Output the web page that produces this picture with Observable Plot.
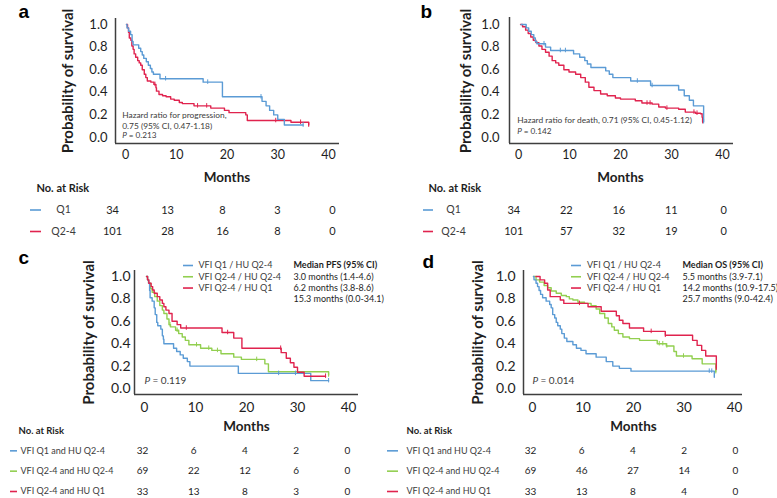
<!DOCTYPE html>
<html><head><meta charset="utf-8">
<script src="https://cdn.jsdelivr.net/npm/d3@7"></script>
<script src="https://cdn.jsdelivr.net/npm/@observablehq/plot@0.6"></script>
<style>
body{margin:0;background:#fff;}
#root{position:relative;width:777px;height:498px;overflow:hidden;background:#fff;}
#root svg{position:absolute;}
</style></head><body><div id="root"></div>
<script>
// ---------- data ----------
const months = [0, 10, 20, 30, 40];
const yTicks = [0, 0.2, 0.4, 0.6, 0.8, 1.0];

const abGroups = ["Q1", "Q2-4"];
const cdGroups = ["VFI Q1 and HU Q2-4", "VFI Q2-4 and HU Q2-4", "VFI Q2-4 and HU Q1"];
const cdLegend = ["VFI Q1 / HU Q2-4", "VFI Q2-4 / HU Q2-4", "VFI Q2-4 / HU Q1"];
const pfsMedianTitle = "Median PFS (95% CI)";
const pfsMedians = ["3.0 months (1.4-4.6)", "6.2 months (3.8-8.6)", "15.3 months (0.0-34.1)"];
const osMedianTitle = "Median OS (95% CI)";
const osMedians = ["5.5 months (3.9-7.1)", "14.2 months (10.9-17.5)", "25.7 months (9.0-42.4)"];
const noteA = ["Hazard ratio for progression,", "0.75 (95% CI, 0.47-1.18)"];
const noteB = ["Hazard ratio for death, 0.71 (95% CI, 0.45-1.12)"];
const pValues = ["0.213", "0.142", "0.119", "0.014"];

// Kaplan-Meier steps [month, survival]
const aQ1 = [[0.2,1],[0.3,0.97],[0.6,0.94],[1.0,0.91],[1.3,0.85],[1.5,0.82],[2.6,0.79],[3.0,0.76],[3.3,0.73],[3.6,0.70],[4.1,0.67],[4.5,0.64],[4.9,0.61],[5.2,0.58],[5.5,0.56],[6.8,0.52],[15.3,0.49],[19.1,0.36],[26.9,0.32],[27.7,0.28],[28.4,0.24],[29.2,0.20],[30.0,0.16],[31.3,0.11],[35.0,0.11]];
const aQ24 = [[0.2,1],[0.4,0.97],[0.6,0.93],[0.75,0.88],[1.05,0.86],[1.25,0.81],[1.5,0.78],[1.7,0.74],[2.0,0.71],[2.4,0.68],[2.7,0.66],[3.0,0.64],[3.3,0.60],[3.7,0.56],[4.0,0.53],[4.3,0.50],[5.0,0.49],[5.6,0.47],[6.0,0.44],[6.1,0.41],[6.6,0.38],[7.3,0.37],[8.0,0.36],[8.9,0.34],[9.6,0.33],[10.6,0.31],[11.2,0.30],[13.5,0.28],[16.8,0.26],[19.5,0.24],[20.4,0.22],[23.7,0.20],[24.0,0.15],[32.6,0.135],[36.1,0.11]];
const aQ1Cens = [7.9, 16.2, 26.7, 35.0];
const aQ24Cens = [5.8, 14.2, 16.0, 29.6, 34.5, 36.1];

const bQ1 = [[0.5,1],[1.5,0.97],[2.0,0.94],[2.5,0.91],[3.0,0.88],[3.3,0.85],[3.6,0.83],[5.3,0.80],[6.3,0.77],[10.8,0.74],[12.0,0.71],[13.0,0.68],[13.5,0.65],[14.2,0.62],[17.1,0.59],[17.8,0.56],[18.5,0.53],[22.0,0.50],[25.9,0.46],[31.4,0.42],[32.5,0.37],[33.5,0.33],[34.3,0.28],[36.3,0.14]];
const bQ24 = [[0.4,1],[0.8,0.98],[1.4,0.95],[1.9,0.92],[2.4,0.89],[2.9,0.86],[3.4,0.84],[4.0,0.81],[4.6,0.78],[5.3,0.755],[6.0,0.72],[6.6,0.68],[7.3,0.66],[7.9,0.64],[8.9,0.60],[9.9,0.58],[11.2,0.56],[12.2,0.53],[13.1,0.49],[13.8,0.445],[14.8,0.415],[16.1,0.385],[17.4,0.37],[19.0,0.35],[20.0,0.34],[22.9,0.325],[24.2,0.305],[26.2,0.295],[27.5,0.27],[28.8,0.26],[31.4,0.25],[32.7,0.225],[34.7,0.215],[35.7,0.21],[36.0,0.18],[36.1,0.14]];
const bQ1Cens = [5.0, 8.2, 9.2, 23.3, 26.2, 36.3];
const bQ24Cens = [25.2, 25.8, 29.1, 34.4, 35.0, 36.1];

const cBlue = [[0.4,1],[0.6,0.97],[0.8,0.94],[1.0,0.875],[1.1,0.81],[1.5,0.78],[1.9,0.72],[2.1,0.66],[2.4,0.59],[2.6,0.56],[3.2,0.53],[3.5,0.47],[3.7,0.44],[3.8,0.40],[5.7,0.36],[6.3,0.33],[7.0,0.30],[7.6,0.27],[8.4,0.24],[8.9,0.20],[18.4,0.135],[32.6,0.07],[36.1,0.07]];
const cGreen = [[0.4,1],[0.6,0.97],[0.8,0.94],[1.2,0.89],[1.5,0.86],[2.0,0.82],[2.5,0.78],[3.0,0.74],[3.5,0.70],[3.8,0.67],[4.4,0.62],[4.8,0.57],[5.1,0.55],[6.1,0.52],[6.7,0.49],[7.4,0.46],[8.0,0.43],[8.7,0.39],[11.0,0.36],[13.2,0.34],[15.0,0.31],[17.5,0.28],[19.0,0.26],[23.6,0.22],[24.3,0.15],[36.1,0.12]];
const cRed = [[0.4,1],[0.6,0.97],[0.85,0.94],[1.3,0.91],[1.6,0.88],[1.9,0.85],[2.5,0.82],[3.0,0.79],[3.5,0.76],[3.8,0.73],[4.2,0.70],[4.8,0.67],[5.4,0.60],[6.4,0.57],[7.1,0.54],[15.2,0.50],[17.5,0.45],[19.1,0.36],[26.8,0.32],[27.8,0.27],[28.6,0.23],[29.3,0.19],[30.0,0.145],[31.3,0.11],[35.5,0.11]];
const cBlueCens = [26.3, 29.6, 36.1];
const cGreenCens = [5.0, 6.4, 10.2, 12.6, 14.3, 22.0, 30.0, 36.1];
const cRedCens = [8.2, 16.3, 26.7, 35.5];

const dBlue = [[0.2,1],[0.3,0.97],[0.7,0.94],[1.0,0.91],[1.3,0.875],[1.6,0.84],[2.0,0.81],[2.7,0.78],[3.4,0.75],[3.7,0.72],[4.0,0.66],[4.4,0.63],[4.7,0.59],[5.0,0.56],[5.5,0.53],[5.8,0.49],[6.3,0.45],[6.8,0.42],[8.0,0.39],[8.7,0.36],[9.6,0.34],[10.6,0.31],[12.6,0.28],[14.6,0.24],[15.9,0.20],[17.2,0.18],[19.5,0.155],[36.0,0.10]];
const dGreen = [[0.2,1],[0.7,0.97],[1.4,0.95],[2.3,0.92],[3.0,0.90],[3.7,0.87],[4.7,0.85],[5.7,0.83],[6.7,0.82],[7.3,0.80],[8.0,0.79],[9.0,0.77],[10.3,0.76],[11.6,0.74],[12.6,0.71],[13.3,0.67],[14.3,0.63],[15.0,0.58],[15.7,0.55],[16.2,0.52],[17.0,0.49],[17.9,0.46],[19.2,0.445],[21.2,0.43],[24.7,0.40],[26.5,0.38],[28.0,0.33],[28.5,0.29],[31.6,0.265],[33.6,0.22],[36.3,0.15]];
const dRed = [[0.7,1],[1.5,0.97],[2.4,0.94],[3.0,0.88],[3.5,0.82],[5.5,0.79],[6.2,0.76],[11.0,0.73],[13.6,0.69],[16.6,0.65],[17.2,0.61],[17.9,0.58],[19.2,0.54],[22.0,0.51],[26.3,0.475],[31.7,0.43],[32.6,0.385],[33.5,0.34],[34.3,0.29],[36.4,0.18]];
const dBlueCens = [35.0, 35.5];
const dGreenCens = [25.1, 25.8, 26.6, 29.9, 36.3];
const dRedCens = [9.3, 23.5, 26.3, 36.4];

// numbers at risk at months 0,10,20,30,40
const riskAQ1 = [34, 13, 8, 3, 0];
const riskAQ24 = [101, 28, 16, 8, 0];
const riskBQ1 = [34, 22, 16, 11, 0];
const riskBQ24 = [101, 57, 32, 19, 0];
const riskCBlue = [32, 6, 4, 2, 0];
const riskCGreen = [69, 22, 12, 6, 0];
const riskCRed = [33, 13, 8, 3, 0];
const riskDBlue = [32, 6, 4, 2, 0];
const riskDGreen = [69, 46, 27, 14, 0];
const riskDRed = [33, 13, 8, 4, 0];

// ---------- styling ----------
const BLUE = "#5b9bd5", RED = "#e0234e", GREEN = "#92cf50";
const INK = "#1e1e1e", LABEL = "#3c3c3c", AXIS = "#3f3f3f";
const FONT = "Lato, 'Open Sans', sans-serif";
const baseStyle = {background: "transparent", overflow: "visible", fontFamily: FONT};
const root = document.getElementById("root");
function place(svg, left, top) { svg.style.left = left + "px"; svg.style.top = top + "px"; root.appendChild(svg); }
function survAt(pts, t) { let s = pts[0][1]; for (const [tt, ss] of pts) if (tt <= t) s = ss; return s; }

function kmPanel(c) {
  const marks = [
    Plot.ruleX([0], {x: d => d, dx: c.axDx, insetTop: -c.axTop, insetBottom: -6, stroke: AXIS, strokeWidth: 1.5}),
    Plot.ruleY([0], {y: d => d, dy: 6, insetLeft: c.axDx, insetRight: -c.axRight, stroke: AXIS, strokeWidth: 1.5}),
    Plot.text(yTicks, {y: d => d, text: d => d.toFixed(1), frameAnchor: "left", textAnchor: "end", dx: -c.yPad, fontSize: c.yTickSize, fill: INK}),
    Plot.text(months, {x: d => d, text: d => String(d), frameAnchor: "bottom", textAnchor: "middle", lineAnchor: "top", dy: c.xPad, fontSize: c.xTickSize, fill: INK}),
    Plot.text(["Months"], {text: d => d, frameAnchor: "bottom", textAnchor: "middle", lineAnchor: "bottom", dy: c.monthsDy, fontWeight: "bold", fontSize: 13.5, fill: INK}),
    Plot.text(["Probability of survival"], {text: d => d, frameAnchor: "left", textAnchor: "middle", lineAnchor: "middle", dx: c.ylabDx, rotate: -90, fontWeight: "bold", fontSize: 15, fill: INK}),
    Plot.text([c.letter], {text: d => d, frameAnchor: "top-left", textAnchor: "start", lineAnchor: "bottom", dx: c.letterDx, dy: c.letterDy, fontWeight: "bold", fontSize: 19, fontFamily: "'Liberation Sans', Arial, sans-serif", fill: "#000"})
  ];
  (c.notes || []).forEach((line, i) => {
    marks.push(Plot.text([line], {text: d => d, frameAnchor: "bottom-left", textAnchor: "start", dx: c.noteDx, dy: c.noteDy[i], fontSize: c.noteSize, fill: LABEL}));
  });
  marks.push(Plot.text(["P"], {text: d => d, frameAnchor: "bottom-left", textAnchor: "start", dx: c.noteDx, dy: c.pDy, fontSize: c.pSize, fontStyle: "italic", fill: LABEL}));
  marks.push(Plot.text(["= " + c.p], {text: d => d, frameAnchor: "bottom-left", textAnchor: "start", dx: c.noteDx + c.pSize * 0.8, dy: c.pDy, fontSize: c.pSize, fill: LABEL}));
  for (const s of c.series) {
    marks.push(Plot.line(s.pts, {x: d => d[0], y: d => d[1], curve: "step-after", stroke: s.color, strokeWidth: 1.4}));
    const cens = s.cens.map(t => [t, survAt(s.pts, t)]);
    marks.push(Plot.ruleX(cens, {x: d => d[0], y1: d => d[1] - 0.02, y2: d => d[1] + 0.02, stroke: s.color, strokeWidth: 1}));
  }
  const svg = Plot.plot({
    width: c.width, height: c.height,
    marginLeft: c.ml, marginRight: c.mr, marginTop: c.mt, marginBottom: c.mb,
    x: {domain: [0, 40], axis: null}, y: {domain: [0, 1], axis: null},
    style: baseStyle, marks
  });
  place(svg, c.left, c.top);
}

function riskTable(c) {
  const n = c.groups.length;
  const marks = [
    Plot.text(["No. at Risk"], {text: d => d, y: () => 0, frameAnchor: "left", dx: c.headerX, textAnchor: "start", fontWeight: "bold", fontSize: c.headerSize, fill: INK})
  ];
  c.groups.forEach((g, i) => {
    marks.push(Plot.ruleY([i + 1], {y: d => d, insetLeft: c.dashX1, insetRight: c.width - c.dashX2, stroke: c.colors[i], strokeWidth: 1.6}));
    marks.push(Plot.text([g], {text: d => d, y: () => i + 1, frameAnchor: "left", dx: c.labelX, textAnchor: c.labelAnchor, fontSize: c.labelSize, fill: LABEL}));
    marks.push(Plot.text(c.counts[i], {x: (d, j) => months[j], y: () => i + 1, text: d => String(d), textAnchor: "middle", fontSize: c.numSize, fill: INK}));
  });
  const svg = Plot.plot({
    width: c.width, height: c.height, marginLeft: 0, marginRight: 0, marginTop: 0, marginBottom: 0,
    x: {domain: [0, 40], range: c.xRange, axis: null},
    y: {domain: [0, n], range: [c.y0, c.y1], axis: null},
    style: baseStyle, marks
  });
  place(svg, c.left, c.top);
}

function legendTable(c) {
  const marks = [
    Plot.text([c.title], {text: d => d, y: () => 0, frameAnchor: "left", dx: c.medX, textAnchor: "start", fontWeight: "bold", fontSize: 9, fill: INK})
  ];
  c.names.forEach((g, i) => {
    marks.push(Plot.ruleY([i], {y: d => d, insetLeft: c.dashX1, insetRight: c.width - c.dashX2, stroke: c.colors[i], strokeWidth: 1.6}));
    marks.push(Plot.text([g], {text: d => d, y: () => i, frameAnchor: "left", dx: c.textX, textAnchor: "start", fontSize: 9, fill: LABEL}));
    marks.push(Plot.text([c.medians[i]], {text: d => d, y: () => i + 1, frameAnchor: "left", dx: c.medX, textAnchor: "start", fontSize: 9, fill: INK}));
  });
  const svg = Plot.plot({
    width: c.width, height: c.height, marginLeft: 0, marginRight: 0, marginTop: 0, marginBottom: 0,
    y: {domain: [0, 3], range: [15, 48.8], axis: null},
    style: baseStyle, marks
  });
  place(svg, c.left, c.top);
}

// ---------- panels ----------
kmPanel({left: 0, top: 0, width: 390, height: 200, ml: 125, mr: 62, mt: 24, mb: 63,
  axDx: -10, axTop: 6, axRight: 11, yPad: 18, xPad: 13, yTickSize: 13, xTickSize: 12.5,
  monthsDy: 44.5, ylabDx: -57, letter: "a", letterDx: -107, letterDy: -6.7,
  notes: noteA, noteDx: -3.3, noteDy: [-20, -9], noteSize: 8.4, pDy: 0, pSize: 8.2, p: pValues[0],
  series: [{pts: aQ24, cens: aQ24Cens, color: RED}, {pts: aQ1, cens: aQ1Cens, color: BLUE}]});

kmPanel({left: 390, top: 0, width: 387, height: 200, ml: 128, mr: 55, mt: 24, mb: 63,
  axDx: -9, axTop: 7, axRight: 11, yPad: 19, xPad: 13, yTickSize: 13, xTickSize: 12.5,
  monthsDy: 44.7, ylabDx: -52, letter: "b", letterDx: -98, letterDy: -6.7,
  notes: noteB, noteDx: -1.3, noteDy: [-15], noteSize: 8.4, pDy: -4, pSize: 8.2, p: pValues[1],
  series: [{pts: bQ24, cens: bQ24Cens, color: RED}, {pts: bQ1, cens: bQ1Cens, color: BLUE}]});

kmPanel({left: 0, top: 250, width: 390, height: 190, ml: 144, mr: 42, mt: 26, mb: 52,
  axDx: -10, axTop: 6, axRight: 10, yPad: 14, xPad: 13.7, yTickSize: 14, xTickSize: 13.5,
  monthsDy: 42, ylabDx: -55, letter: "c", letterDx: -126, letterDy: -12.5,
  notes: [], noteDx: 0, pDy: -5, pSize: 10, p: pValues[2],
  series: [{pts: cGreen, cens: cGreenCens, color: GREEN}, {pts: cBlue, cens: cBlueCens, color: BLUE}, {pts: cRed, cens: cRedCens, color: RED}]});

kmPanel({left: 390, top: 250, width: 387, height: 190, ml: 142, mr: 43, mt: 26, mb: 52,
  axDx: -9, axTop: 6, axRight: 8, yPad: 17, xPad: 13.7, yTickSize: 14, xTickSize: 13.5,
  monthsDy: 42, ylabDx: -54, letter: "d", letterDx: -110, letterDy: -9,
  notes: [], noteDx: 0, pDy: -5, pSize: 10, p: pValues[3],
  series: [{pts: dGreen, cens: dGreenCens, color: GREEN}, {pts: dBlue, cens: dBlueCens, color: BLUE}, {pts: dRed, cens: dRedCens, color: RED}]});

legendTable({left: 0, top: 250, width: 390, height: 60, names: cdLegend, colors: [BLUE, GREEN, RED],
  dashX1: 183, dashX2: 193, textX: 198, medX: 293, title: pfsMedianTitle, medians: pfsMedians});
legendTable({left: 390, top: 250, width: 387, height: 60, names: cdLegend, colors: [BLUE, GREEN, RED],
  dashX1: 181, dashX2: 191, textX: 196.5, medX: 292, title: osMedianTitle, medians: osMedians});

riskTable({left: 0, top: 180, width: 390, height: 60, y0: 8, y1: 51, xRange: [112, 332],
  groups: abGroups, colors: [BLUE, RED], counts: [riskAQ1, riskAQ24],
  headerX: 36, headerSize: 11, dashX1: 30, dashX2: 41, labelX: 63, labelAnchor: "middle", labelSize: 10.5, numSize: 11});
riskTable({left: 390, top: 180, width: 387, height: 60, y0: 8, y1: 51, xRange: [123.3, 333.3],
  groups: abGroups, colors: [BLUE, RED], counts: [riskBQ1, riskBQ24],
  headerX: 38, headerSize: 11, dashX1: 33, dashX2: 43, labelX: 63, labelAnchor: "middle", labelSize: 10.5, numSize: 11});
riskTable({left: 0, top: 420, width: 390, height: 78, y0: 10, y1: 71, xRange: [142, 347],
  groups: cdGroups, colors: [BLUE, GREEN, RED], counts: [riskCBlue, riskCGreen, riskCRed],
  headerX: 18, headerSize: 9.5, dashX1: 10, dashX2: 17, labelX: 20, labelAnchor: "start", labelSize: 9, numSize: 10});
riskTable({left: 380, top: 420, width: 397, height: 78, y0: 10, y1: 71, xRange: [150, 355],
  groups: cdGroups, colors: [BLUE, GREEN, RED], counts: [riskDBlue, riskDGreen, riskDRed],
  headerX: 26, headerSize: 9.5, dashX1: 7, dashX2: 18, labelX: 26, labelAnchor: "start", labelSize: 9, numSize: 10});
</script></body></html>
